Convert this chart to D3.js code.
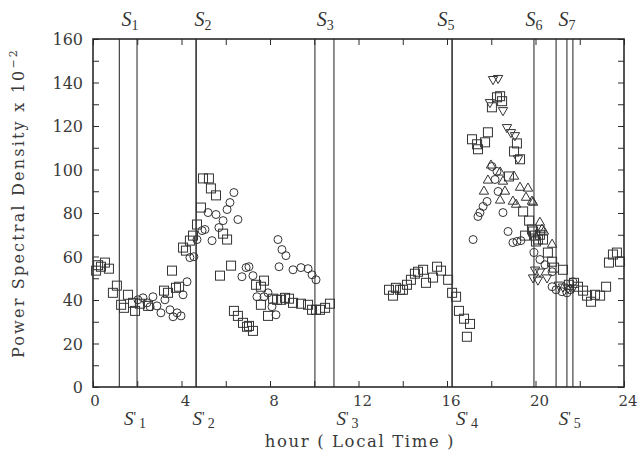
<!DOCTYPE html>
<html><head><meta charset="utf-8">
<script src="https://cdn.jsdelivr.net/npm/d3@7"></script>
<style>body{margin:0;background:#fff}svg{display:block}</style>
</head><body>
<script>
// ---- data ----
const squareHours = [0.14,0.23,0.36,0.54,0.72,0.90,1.08,1.27,1.40,1.58,1.81,1.90,2.12,2.49,3.21,3.39,3.57,3.75,3.89,4.07,4.20,4.38,4.52,4.70,4.88,4.97,5.24,5.33,5.56,5.74,5.88,6.06,6.24,6.37,6.55,6.78,6.96,7.05,7.23,7.37,7.59,7.73,7.59,7.91,8.14,8.32,8.50,8.68,8.86,9.04,9.40,9.72,9.90,10.08,10.26,10.49,10.71,
 13.38,13.56,13.69,13.88,14.01,14.19,14.37,14.55,14.69,14.92,15.05,15.37,15.55,15.73,16.05,16.23,16.41,16.54,16.77,17.04,16.90,
 17.13,17.36,17.40,17.72,17.85,18.03,18.26,18.40,18.49,18.80,19.03,19.16,19.30,19.44,19.71,19.53,19.84,19.98,20.11,19.89,20.20,20.34,20.02,20.56,20.75,20.84,21.24,21.51,21.74,21.92,22.15,22.33,22.51,22.69,22.92,23.19,23.32,23.50,23.68,23.82];
const squareValues = [53.5,56.0,55.3,57.2,54.4,43.3,46.6,37.8,36.4,42.4,38.7,35.0,38.3,37.3,44.3,43.3,53.5,45.6,46.1,64.1,62.7,67.3,69.6,74.7,82.5,95.9,95.9,91.3,88.1,51.2,70.5,67.8,55.8,35.0,32.7,29.5,27.7,28.1,25.8,47.0,46.1,48.9,37.8,32.7,40.6,40.1,40.1,41.0,40.6,38.7,38.3,37.8,35.5,35.5,35.5,36.4,38.3,
 44.7,42.0,45.6,44.7,44.7,47.0,49.3,52.1,53.0,53.9,47.9,50.3,55.3,53.5,49.3,43.3,41.5,35.0,31.4,29.0,23.1,
 113.9,111.6,109.3,112.5,117.1,128.6,133.2,133.7,131.4,96.8,108.3,112.0,104.7,80.7,76.5,69.6,72.4,69.6,67.8,71.5,70.0,67.8,66.9,61.8,57.6,54.9,53.9,47.0,47.9,46.1,44.3,42.0,39.2,42.4,42.0,46.1,57.2,60.9,61.8,57.6];

const circleHours = [2.03,2.26,2.44,2.58,2.71,2.89,3.07,3.25,3.48,3.62,3.80,3.98,4.07,4.25,4.38,4.56,4.70,4.93,5.06,5.20,5.38,5.56,5.69,5.88,6.06,6.19,6.37,6.55,6.73,6.92,7.05,7.23,7.41,7.73,7.91,8.09,8.27,8.36,8.54,8.72,8.41,9.04,9.40,9.72,9.90,10.08,
 17.18,17.40,17.49,17.63,17.81,18.03,18.26,18.17,18.31,18.53,18.76,18.98,19.16,19.34,19.93,20.20,20.43,20.75,20.75,20.93,21.20,21.42,21.56,21.69];
const circleValues = [40.1,41.0,38.7,36.9,41.5,37.3,34.1,40.1,35.5,32.3,34.1,32.7,42.4,48.4,59.5,59.9,67.8,71.9,72.4,80.2,67.3,79.3,73.3,76.5,81.6,84.8,89.4,77.0,50.7,54.9,55.3,51.2,41.5,41.5,43.3,36.9,33.2,67.8,63.2,60.4,55.3,53.9,54.9,54.4,51.6,49.3,
 67.8,78.4,80.2,83.0,85.3,101.4,99.1,95.4,89.9,80.2,71.5,66.4,66.9,67.3,61.8,58.6,56.2,53.0,46.1,44.7,43.8,43.3,44.7,48.4];

const triUpHours = [17.85,17.99,18.40,18.53,19.03,17.67,18.62,19.30,19.66,18.40,18.98,19.57,19.84,19.12,19.89,20.29,20.20,20.38,20.75];
const triUpValues = [95.0,101.9,98.7,94.5,96.8,89.9,89.9,91.7,91.3,85.8,85.3,87.1,85.3,83.9,84.8,72.4,75.6,71.5,65.5];

const triDownHours = [18.08,18.31,18.53,17.94,18.71,18.89,19.07,19.21,19.89,20.11,19.98,20.20,20.52,21.06,21.24,21.47,21.69];
const triDownValues = [141.5,142.0,127.2,130.9,119.4,117.1,115.7,105.1,50.3,49.3,53.9,53.0,50.3,47.0,46.1,45.6,45.6];

const eventLines = [1.19,1.99,4.66,10.03,10.89,16.23,19.93,20.93,21.42,21.69];
const topLabels = [{t:1.67,s:"1"},{t:4.97,s:"2"},{t:10.5,s:"3"},{t:15.95,s:"5"},{t:19.93,s:"6"},{t:21.42,s:"7"}];
const bottomLabels = [{t:1.9,s:"1"},{t:5.0,s:"2"},{t:11.5,s:"3"},{t:16.9,s:"4"},{t:21.55,s:"5"}];
const xTickLabels = [0,4,8,12,16,20,24];
const yTickLabels = [0,20,40,60,80,100,120,140,160];

// ---- chart ----
const W=638,H=460;
const m={l:93,r:14,t:39,b:73};
const svg=d3.select("body").append("svg").attr("width",W).attr("height",H);
const x=d3.scaleLinear().domain([0,24]).range([m.l,W-m.r]);
const y=d3.scaleLinear().domain([0,160]).range([H-m.b,m.t]);
const ink="#2a2a2a", txt="#3a3a3a";
const font="'DejaVu Serif', serif";

// event lines
svg.append("g").selectAll("line").data(eventLines).join("line")
 .attr("x1",d=>x(d)).attr("x2",d=>x(d)).attr("y1",y(160)).attr("y2",y(0))
 .attr("stroke","#333").attr("stroke-width",(d,i)=>(i==2||i==5)?1.6:1.1);

// axes with inward ticks
const tickFmt=d=>"";
const gB=svg.append("g").attr("transform",`translate(0,${y(0)})`)
 .call(d3.axisBottom(x).tickValues(d3.range(0,25,2)).tickSize(-6).tickFormat(tickFmt));
const gT=svg.append("g").attr("transform",`translate(0,${y(160)})`)
 .call(d3.axisTop(x).tickValues(d3.range(0,25,2)).tickSize(-6).tickFormat(tickFmt));
const gL=svg.append("g").attr("transform",`translate(${x(0)},0)`)
 .call(d3.axisLeft(y).tickValues(d3.range(0,161,10)).tickSize(-6).tickFormat(tickFmt));
const gR=svg.append("g").attr("transform",`translate(${x(24)},0)`)
 .call(d3.axisRight(y).tickValues(d3.range(0,161,10)).tickSize(-6).tickFormat(tickFmt));
[gB,gT,gL,gR].forEach(g=>{g.select(".domain").remove();g.selectAll("line").attr("stroke",ink).attr("stroke-width",1);});
svg.append("rect").attr("x",x(0)).attr("y",y(160)).attr("width",x(24)-x(0)).attr("height",y(0)-y(160))
 .attr("fill","none").attr("stroke",ink).attr("stroke-width",1.6);

// tick labels
svg.append("g").selectAll("text").data(xTickLabels).join("text")
 .attr("x",d=>x(d)+ (d==0?2:4)).attr("y",y(0)+19).attr("text-anchor","middle")
 .attr("font-family",font).attr("font-size",15).attr("fill",txt).text(d=>d);
svg.append("g").selectAll("text").data(yTickLabels).join("text")
 .attr("x",x(0)-10).attr("y",d=>y(d)+6).attr("text-anchor","end")
 .attr("font-family",font).attr("font-size",16).attr("fill",txt).text(d=>d);

// axis titles
svg.append("text").attr("x",360).attr("y",447).attr("text-anchor","middle")
 .attr("font-family",font).attr("font-size",16.5).attr("letter-spacing",1.6).attr("fill",txt).text("hour ( Local Time )");
const yt=svg.append("text").attr("transform","translate(24,203) rotate(-90)").attr("text-anchor","middle")
 .attr("font-family",font).attr("font-size",16).attr("fill",txt).attr("letter-spacing",2.2);
yt.append("tspan").text("Power Spectral Density x 10");
yt.append("tspan").attr("dy",-7).attr("font-size",11).text("−2");

// S labels
const serif="'Liberation Serif','DejaVu Serif',serif";
const tl=svg.append("g").selectAll("text").data(topLabels).join("text")
 .attr("x",d=>x(d.t)).attr("y",26).attr("text-anchor","middle")
 .attr("font-family",serif).attr("font-size",20).attr("fill","#333");
tl.append("tspan").attr("font-style","italic").text("S");
tl.append("tspan").attr("dy",4).attr("font-size",14).text(d=>d.s);
const bl=svg.append("g").selectAll("text").data(bottomLabels).join("text")
 .attr("x",d=>x(d.t)).attr("y",425).attr("text-anchor","middle")
 .attr("font-family",serif).attr("font-size",19).attr("fill","#333");
bl.append("tspan").attr("font-style","italic").text("S");
bl.append("tspan").attr("font-size",14).attr("dy",-3).text("'");
bl.append("tspan").attr("font-size",14).attr("dy",6).attr("dx",3).text(d=>d.s);

// markers
const mk={fill:"none",stroke:"#333",sw:1};
const zip=(a,b)=>a.map((h,i)=>({h,v:b[i]}));
const g=svg.append("g");
g.selectAll(".sq").data(zip(squareHours,squareValues)).join("rect").attr("class","sq")
 .attr("x",d=>x(d.h)-4.5).attr("y",d=>y(d.v)-4.5).attr("width",9).attr("height",9)
 .attr("fill",mk.fill).attr("stroke",mk.stroke).attr("stroke-width",mk.sw);
g.selectAll(".ci").data(zip(circleHours,circleValues)).join("circle").attr("class","ci")
 .attr("cx",d=>x(d.h)).attr("cy",d=>y(d.v)).attr("r",4)
 .attr("fill",mk.fill).attr("stroke",mk.stroke).attr("stroke-width",mk.sw);
const triUp=d3.symbol().type(d3.symbolTriangle).size(38);
g.selectAll(".tu").data(zip(triUpHours,triUpValues)).join("path").attr("class","tu")
 .attr("d",triUp).attr("transform",d=>`translate(${x(d.h)},${y(d.v)})`)
 .attr("fill",mk.fill).attr("stroke",mk.stroke).attr("stroke-width",mk.sw);
g.selectAll(".td").data(zip(triDownHours,triDownValues)).join("path").attr("class","td")
 .attr("d",triUp).attr("transform",d=>`translate(${x(d.h)},${y(d.v)}) rotate(180)`)
 .attr("fill",mk.fill).attr("stroke",mk.stroke).attr("stroke-width",mk.sw);
</script>
</body></html>
